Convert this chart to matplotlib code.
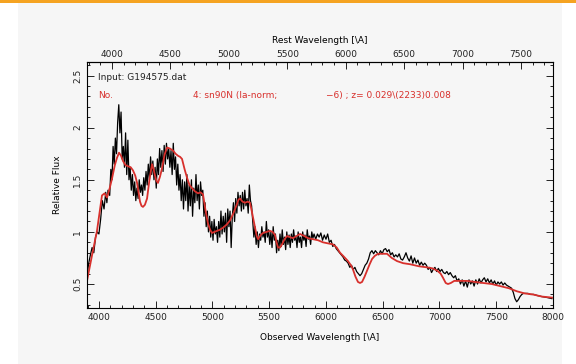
import matplotlib
matplotlib.use('Agg')
import matplotlib.pyplot as plt
from matplotlib.patches import Rectangle
from matplotlib.ticker import MultipleLocator, FixedLocator, FormatStrFormatter

z = 0.029

# observed spectrum (black)
obs_wave = [3895, 3910, 3925, 3940, 3955, 3970, 3985, 4000, 4015, 4030, 4045, 4060, 4070, 4080, 4095,
            4105, 4115, 4125, 4135, 4145, 4155, 4165, 4175, 4185, 4195, 4205, 4215, 4225, 4235, 4245,
            4255, 4265, 4275, 4285, 4295, 4305, 4315, 4325, 4335, 4345, 4355, 4365, 4375, 4385, 4395,
            4405, 4415, 4425, 4435, 4445, 4455, 4465, 4475, 4485, 4495, 4505, 4515, 4525, 4535, 4545,
            4555, 4565, 4575, 4585, 4595, 4605, 4615, 4625, 4635, 4645, 4655, 4665, 4675, 4685, 4695,
            4705, 4715, 4725, 4735, 4745, 4755, 4765, 4775, 4785, 4795, 4805, 4815, 4825, 4835, 4845,
            4855, 4865, 4875, 4885, 4895, 4905, 4915, 4925, 4935, 4945, 4955, 4965, 4975, 4985, 4995,
            5005, 5015, 5025, 5035, 5045, 5055, 5065, 5075, 5085, 5095, 5105, 5115, 5125, 5135, 5145,
            5155, 5165, 5175, 5185, 5195, 5205, 5215, 5225, 5235, 5245, 5255, 5265, 5275, 5285, 5295,
            5305, 5315, 5325, 5335, 5345, 5355, 5365, 5375, 5385, 5395, 5405, 5415, 5425, 5435, 5445,
            5455, 5465, 5475, 5485, 5495, 5505, 5515, 5525, 5535, 5545, 5555, 5565, 5575, 5585, 5595,
            5605, 5615, 5625, 5635, 5645, 5655, 5665, 5675, 5685, 5695, 5705, 5715, 5725, 5735, 5745,
            5755, 5765, 5775, 5785, 5795, 5805, 5815, 5825, 5835, 5845, 5855, 5865, 5875, 5885, 5895,
            5910, 5925, 5940, 5955, 5970, 5985, 6000, 6015, 6030, 6045, 6060, 6075, 6090, 6105, 6120,
            6135, 6150, 6165, 6180, 6195, 6210, 6225, 6240, 6255, 6270, 6285, 6300, 6315, 6330, 6345,
            6360, 6375, 6390, 6405, 6420, 6435, 6450, 6465, 6480, 6495, 6510, 6525, 6540, 6555, 6570,
            6585, 6600, 6615, 6630, 6645, 6660, 6675, 6690, 6705, 6720, 6735, 6750, 6765, 6780, 6795,
            6810, 6825, 6840, 6855, 6870, 6885, 6900, 6915, 6930, 6945, 6960, 6975, 6990, 7005, 7020,
            7035, 7050, 7065, 7080, 7095, 7110, 7125, 7140, 7155, 7170, 7185, 7200, 7215, 7230, 7245,
            7260, 7275, 7290, 7305, 7320, 7335, 7350, 7365, 7380, 7395, 7410, 7425, 7440, 7455, 7470,
            7485, 7500, 7515, 7530, 7545, 7560, 7575, 7590, 7605, 7620, 7635, 7650, 7665, 7680, 7695,
            7710, 7725, 7740, 7760, 7780, 7800, 7830, 7860, 7900, 7950, 7990]
obs_flux = [0.58, 0.70, 0.78, 0.85, 0.80, 0.95, 1.00, 0.98, 1.12, 1.30, 1.22, 1.38, 1.28, 1.40, 1.35,
            1.60, 1.50, 1.82, 1.65, 1.90, 1.75, 2.05, 2.22, 1.95, 2.15, 1.70, 1.82, 1.62, 1.95, 1.55,
            1.88, 1.50, 1.62, 1.40, 1.55, 1.35, 1.48, 1.30, 1.42, 1.32, 1.50, 1.38, 1.45, 1.35, 1.52,
            1.40, 1.58, 1.45, 1.65, 1.50, 1.72, 1.55, 1.68, 1.50, 1.62, 1.42, 1.70, 1.55, 1.80, 1.62,
            1.78, 1.58, 1.83, 1.65, 1.85, 1.70, 1.80, 1.62, 1.78, 1.55, 1.85, 1.60, 1.72, 1.45, 1.65,
            1.40, 1.55, 1.30, 1.50, 1.22, 1.48, 1.30, 1.55, 1.20, 1.45, 1.25, 1.50, 1.15, 1.42, 1.28,
            1.55, 1.30, 1.45, 1.22, 1.48, 1.35, 1.40, 1.15, 1.28, 1.05, 1.20, 1.00, 1.15, 0.95, 1.10,
            0.92, 1.12, 0.98, 1.05, 0.90, 1.10, 0.95, 1.20, 0.98, 1.15, 1.00, 1.18, 0.90, 1.22, 1.05,
            1.20, 0.85, 1.15, 1.28, 1.10, 1.32, 1.18, 1.38, 1.25, 1.35, 1.20, 1.38, 1.22, 1.40, 1.25,
            1.32, 1.18, 1.45, 1.30, 1.25, 1.10, 0.95, 1.05, 0.88, 1.00, 0.85, 0.98, 0.92, 1.05, 0.95,
            1.00, 0.90, 1.10, 0.95, 1.02, 0.88, 1.00, 0.85, 1.05, 0.92, 0.98, 0.80, 0.92, 0.82, 0.98,
            0.86, 1.02, 0.88, 0.95, 0.83, 1.00, 0.88, 0.97, 0.85, 0.98, 0.90, 1.02, 0.92, 0.96, 0.85,
            1.00, 0.90, 0.95, 0.85, 1.00, 0.92, 0.97, 0.86, 1.02, 0.93, 0.96, 0.88, 1.00, 0.94, 0.98,
            0.93, 0.98, 0.95, 0.99, 0.92, 0.97, 0.93, 0.98, 0.90, 0.92, 0.86, 0.88, 0.84, 0.82, 0.80,
            0.78, 0.76, 0.73, 0.72, 0.70, 0.66, 0.68, 0.64, 0.66, 0.62, 0.60, 0.58, 0.60, 0.64, 0.68,
            0.70, 0.74, 0.80, 0.82, 0.79, 0.82, 0.80, 0.78, 0.82, 0.79, 0.83, 0.84, 0.81, 0.83, 0.78,
            0.80, 0.76, 0.78, 0.76, 0.79, 0.74, 0.73, 0.76, 0.80, 0.75, 0.72, 0.77, 0.70, 0.75, 0.70,
            0.73, 0.68, 0.71, 0.68, 0.70, 0.68, 0.64, 0.66, 0.61, 0.64, 0.66, 0.62, 0.65, 0.62, 0.64,
            0.61, 0.60, 0.62, 0.59, 0.61, 0.58, 0.56, 0.58, 0.53, 0.55, 0.50, 0.54, 0.48, 0.53, 0.47,
            0.54, 0.50, 0.53, 0.48, 0.54, 0.50, 0.55, 0.51, 0.54, 0.56, 0.52, 0.55, 0.51, 0.54, 0.50,
            0.53, 0.49, 0.52, 0.50, 0.52, 0.49, 0.51, 0.49, 0.48, 0.47, 0.46, 0.42, 0.36, 0.33, 0.35,
            0.38, 0.40, 0.41, 0.41, 0.41, 0.40, 0.40, 0.39, 0.38, 0.37, 0.36]

# template fit (red)
tmpl_wave = [3895, 3940, 3983, 4010, 4027, 4050, 4071, 4095, 4115, 4140, 4159, 4177, 4195, 4212,
             4235, 4256, 4280, 4300, 4320, 4336, 4350, 4362, 4375, 4388, 4405, 4424, 4445, 4468,
             4482, 4494, 4507, 4520, 4538, 4556, 4578, 4600, 4625, 4653, 4675, 4697, 4715, 4732,
             4755, 4776, 4798, 4820, 4845, 4873, 4895, 4917, 4940, 4961, 4980, 4996, 5018, 5040,
             5065, 5093, 5125, 5155, 5185, 5217, 5230, 5243, 5265, 5287, 5310, 5331, 5350, 5375,
             5390, 5402, 5425, 5446, 5475, 5507, 5530, 5551, 5565, 5578, 5595, 5613, 5635, 5657,
             5685, 5710, 5740, 5772, 5810, 5842, 5886, 5930, 5974, 6020, 6062, 6095, 6124, 6160,
             6194, 6220, 6238, 6260, 6282, 6300, 6318, 6340, 6362, 6385, 6406, 6430, 6459, 6500,
             6538, 6580, 6626, 6680, 6740, 6820, 6890, 6940, 6978, 7010, 7031, 7055, 7075, 7100,
             7130, 7155, 7200, 7243, 7310, 7384, 7460, 7533, 7610, 7683, 7750, 7824, 7900, 7991]
tmpl_flux = [0.53, 0.78, 1.01, 1.22, 1.35, 1.37, 1.33, 1.42, 1.51, 1.64, 1.71, 1.76, 1.73, 1.68,
             1.64, 1.63, 1.62, 1.59, 1.54, 1.47, 1.37, 1.29, 1.25, 1.24, 1.26, 1.32, 1.50, 1.65,
             1.60, 1.54, 1.49, 1.47, 1.53, 1.61, 1.74, 1.81, 1.80, 1.78, 1.75, 1.73, 1.72, 1.70,
             1.60, 1.52, 1.45, 1.42, 1.39, 1.37, 1.38, 1.36, 1.20, 1.08, 1.02, 0.99, 1.00, 1.01,
             1.02, 1.04, 1.07, 1.11, 1.18, 1.27, 1.31, 1.32, 1.29, 1.28, 1.29, 1.28, 1.18, 1.04,
             0.96, 0.93, 0.97, 0.99, 1.00, 1.01, 1.00, 0.97, 0.90, 0.85, 0.85, 0.88, 0.93, 0.96,
             0.95, 0.94, 0.96, 0.98, 0.96, 0.94, 0.93, 0.92, 0.90, 0.89, 0.88, 0.85, 0.80, 0.76,
             0.72, 0.68, 0.64, 0.57, 0.52, 0.51, 0.52, 0.57, 0.63, 0.69, 0.74, 0.77, 0.79, 0.79,
             0.79, 0.75, 0.72, 0.70, 0.69, 0.67, 0.66, 0.65, 0.63, 0.60, 0.56, 0.51, 0.50, 0.51,
             0.53, 0.53, 0.53, 0.53, 0.52, 0.51, 0.50, 0.48, 0.46, 0.43, 0.41, 0.40, 0.38, 0.37]

rest_ticks = [4000, 4500, 5000, 5500, 6000, 6500, 7000, 7500]

red = '#d8302c'
ink = '#222222'
fs = 6.5

fig = plt.figure(figsize=(5.76, 3.64), dpi=100, facecolor='white')
# light grey panel and orange strip along the top
fig.patches.append(Rectangle((18 / 576, 0), 544 / 576, 1 - 3 / 364, transform=fig.transFigure,
                             facecolor='#f6f6f6', edgecolor='none', zorder=-10))
fig.patches.append(Rectangle((0, 1 - 3 / 364), 1, 3 / 364, transform=fig.transFigure,
                             facecolor='#f5a321', edgecolor='none', zorder=-10))

ax = fig.add_axes([87 / 576, 1 - 308 / 364, 466 / 576, 246 / 364])
ax.set_facecolor('#f6f6f6')
ax.plot(obs_wave, obs_flux, color='black', lw=0.9)
ax.plot(tmpl_wave, tmpl_flux, color=red, lw=1.3)

ax.set_xlim(3895, 8000)
ax.set_ylim(0.27, 2.63)
ax.xaxis.set_major_locator(MultipleLocator(500))
ax.xaxis.set_minor_locator(MultipleLocator(100))
ax.yaxis.set_major_locator(MultipleLocator(0.5))
ax.yaxis.set_minor_locator(MultipleLocator(0.1))
ax.yaxis.set_major_formatter(FormatStrFormatter('%g'))
ax.tick_params(which='both', direction='in', right=True, top=False, labelsize=fs, width=0.7, colors=ink)
ax.tick_params(which='major', length=5)
ax.tick_params(which='minor', length=2.5)
for lab in ax.get_yticklabels():
    lab.set_rotation(90)
    lab.set_va('center')
for s in ax.spines.values():
    s.set_linewidth(0.8)
ax.set_xlabel('Observed Wavelength [\\A]', fontsize=fs, labelpad=8)
ax.set_ylabel('Relative Flux', fontsize=fs, labelpad=8)

top = ax.secondary_xaxis('top', functions=(lambda w: w / (1 + z), lambda w: w * (1 + z)))
top.xaxis.set_major_locator(FixedLocator(rest_ticks))
top.xaxis.set_minor_locator(MultipleLocator(100))
top.tick_params(which='both', direction='in', labelsize=fs, width=0.7, colors=ink, pad=2)
top.tick_params(which='major', length=5)
top.tick_params(which='minor', length=2.5)
top.set_xlabel('Rest Wavelength [\\A]', fontsize=fs, labelpad=5)

ax.text(0.023, 0.925, 'Input: G194575.dat', transform=ax.transAxes, fontsize=fs, color=ink)
ax.text(0.023, 0.855, 'No.', transform=ax.transAxes, fontsize=fs, color=red)
ax.text(0.227, 0.855, '4: sn90N (la-norm;', transform=ax.transAxes, fontsize=fs, color=red)
ax.text(0.513, 0.855, '\u22126) ; z= 0.029\\(2233)0.008', transform=ax.transAxes, fontsize=fs, color=red)

fig.savefig('out.png', dpi=100, facecolor=fig.get_facecolor())
